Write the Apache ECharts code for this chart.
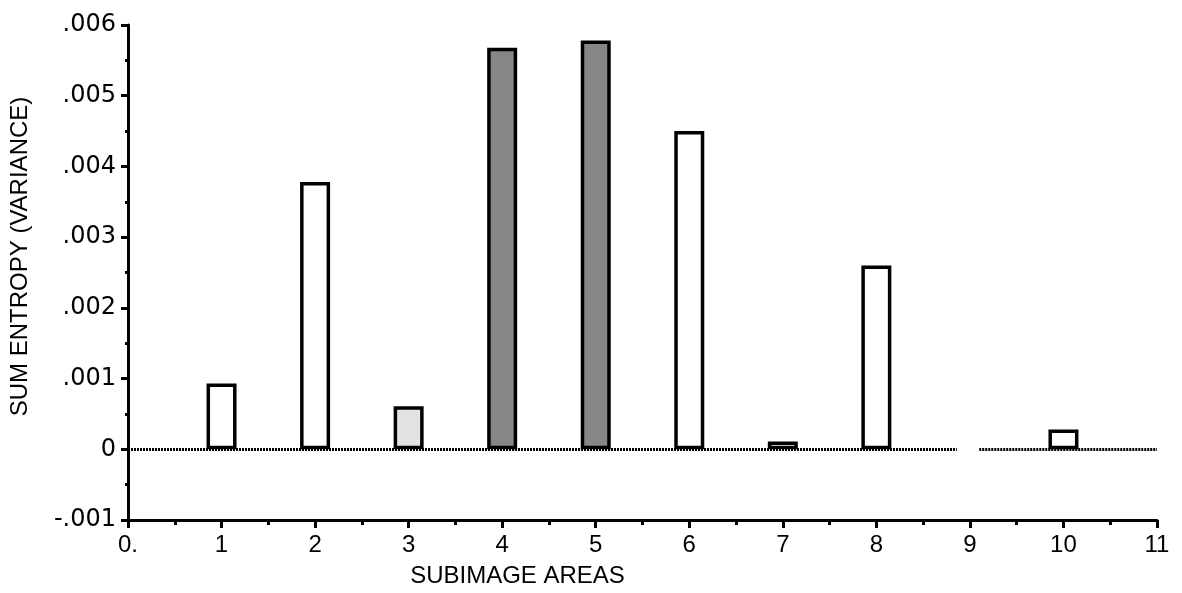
<!DOCTYPE html>
<html>
<head>
<meta charset="utf-8">
<script src="https://cdn.jsdelivr.net/npm/echarts@6/dist/echarts.min.js"></script>
<style>html,body{margin:0;padding:0;background:#fff;}#c{width:1182px;height:593px;}</style>
</head>
<body>
<div id="c"></div>
<script>
// ---- data ----
const areas = [1, 2, 3, 4, 5, 6, 7, 8, 10];
const sumEntropy = [0.00093, 0.00378, 0.00061, 0.00568, 0.00578, 0.00450, 0.00011, 0.00260, 0.00028];
const shading = ['none', 'none', 'light', 'dark', 'dark', 'none', 'none', 'none', 'none'];
const zeroLineSegments = [[0, 8.86], [9.10, 11]];
const xTicks = [0, 1, 2, 3, 4, 5, 6, 7, 8, 9, 10, 11];
const yTicks = [-0.001, 0, 0.001, 0.002, 0.003, 0.004, 0.005, 0.006];
const xName = 'SUBIMAGE AREAS';
const yName = 'SUM ENTROPY (VARIANCE)';

const fills = { none: '#ffffff', light: '#e2e2e2', dark: '#868686' };

const chart = echarts.init(document.getElementById('c'), null, { renderer: 'canvas' });

function yFmt(v) {
  const k = Math.round(v * 1000);
  if (k === 0) return '0';
  return (k < 0 ? '-' : '') + '.00' + Math.abs(k);
}
function xFmt(v) {
  const r = Math.round(v);
  return r === 0 ? '0.' : String(r);
}

const barData = areas.map((a, i) => ({
  value: [a, sumEntropy[i]],
  itemStyle: { color: fills[shading[i]] }
}));

const zeroLines = zeroLineSegments.map(s => [{ coord: [s[0], 0] }, { coord: [s[1], 0] }]);

const option = {
  backgroundColor: '#ffffff',
  animation: false,
  grid: { left: 127, right: 25, top: 25, bottom: 72, containLabel: false },
  xAxis: {
    type: 'value',
    min: xTicks[0],
    max: xTicks[xTicks.length - 1],
    interval: 1,
    name: xName,
    nameLocation: 'middle',
    nameGap: 44,
    nameTextStyle: { fontFamily: 'Liberation Sans', fontSize: 24, color: '#000', padding: [0, 250, 0, 0] },
    axisLine: { onZero: false, lineStyle: { color: '#000', width: 3 } },
    axisTick: { show: true, inside: false, length: 8, lineStyle: { color: '#000', width: 3 } },
    minorTick: { show: true, splitNumber: 2, length: 5, lineStyle: { color: '#000', width: 3 } },
    splitLine: { show: false },
    axisLabel: { formatter: xFmt, fontFamily: 'Liberation Sans', fontSize: 24, color: '#000', margin: 13 }
  },
  yAxis: {
    type: 'value',
    min: yTicks[0],
    max: yTicks[yTicks.length - 1],
    interval: 0.001,
    name: yName,
    nameLocation: 'middle',
    nameGap: 96,
    nameTextStyle: { fontFamily: 'Liberation Sans', fontSize: 24, color: '#000', padding: [0, 0, 0, 32] },
    axisLine: { onZero: false, lineStyle: { color: '#000', width: 3 } },
    axisTick: { show: true, inside: false, length: 7, lineStyle: { color: '#000', width: 3 } },
    minorTick: { show: true, splitNumber: 2, length: 3, lineStyle: { color: '#000', width: 3 } },
    splitLine: { show: false },
    axisLabel: { formatter: yFmt, fontFamily: 'DejaVu Sans', fontSize: 24, color: '#000', margin: 12 }
  },
  series: [
    {
      type: 'bar',
      data: barData,
      barWidth: 30,
      itemStyle: { borderColor: '#000', borderWidth: 3.5 },
      markLine: {
        silent: true,
        symbol: 'none',
        label: { show: false },
        lineStyle: { color: '#000', width: 3, type: [2, 1] },
        data: zeroLines,
        z: 1
      },
      z: 3
    }
  ]
};
chart.setOption(option);
</script>
</body>
</html>
